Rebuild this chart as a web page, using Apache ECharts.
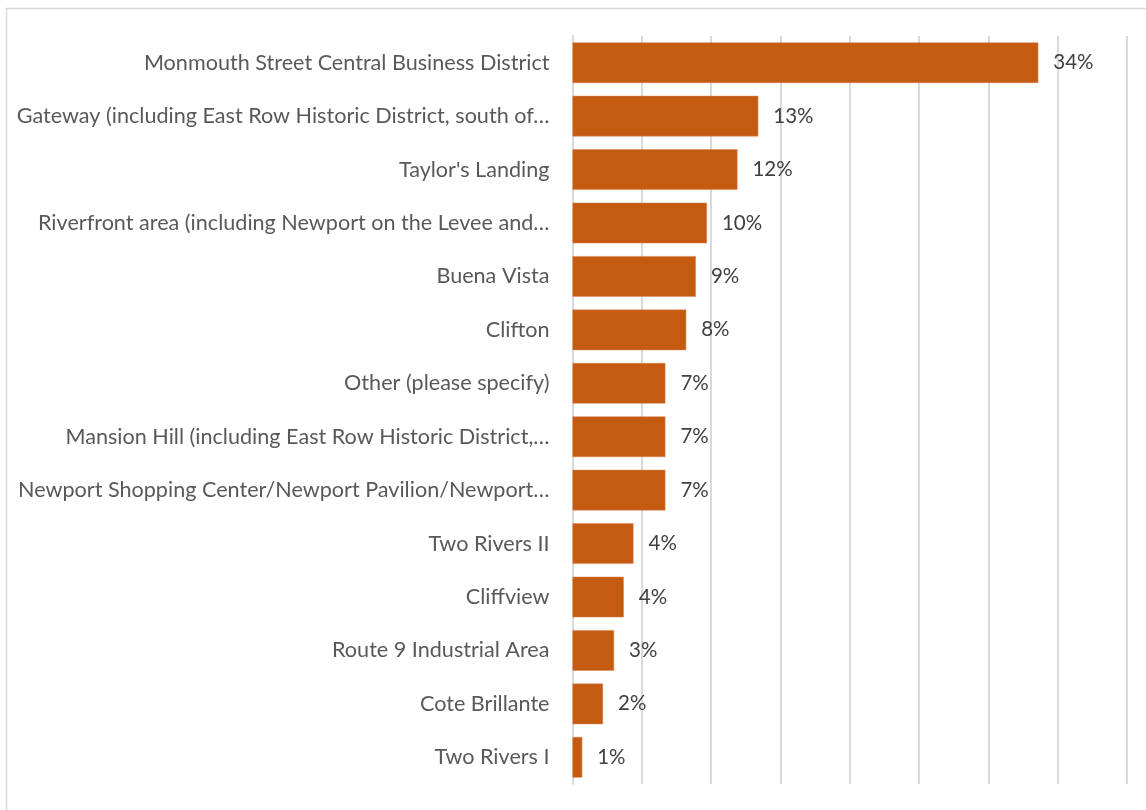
<!DOCTYPE html>
<html>
<head>
<meta charset="utf-8">
<script src="https://cdn.jsdelivr.net/npm/echarts@6/dist/echarts.min.js"></script>
<style>
  html, body { margin: 0; padding: 0; background: #ffffff; }
  #chart { width: 1146px; height: 810px; }
</style>
</head>
<body>
<div id="chart"></div>
<script>
const categories = [
  "Monmouth Street Central Business District",
  "Gateway (including East Row Historic District, south of…",
  "Taylor's Landing",
  "Riverfront area (including Newport on the Levee and…",
  "Buena Vista",
  "Clifton",
  "Other (please specify)",
  "Mansion Hill (including East Row Historic District,…",
  "Newport Shopping Center/Newport Pavilion/Newport…",
  "Two Rivers II",
  "Cliffview",
  "Route 9 Industrial Area",
  "Cote Brillante",
  "Two Rivers I"
];
const values = [33.6, 13.4, 11.9, 9.7, 8.9, 8.2, 6.7, 6.7, 6.7, 4.4, 3.7, 3.0, 2.2, 0.7];
const axisMin = 0;
const axisMax = 40;
const axisStep = 5;

const chart = echarts.init(document.getElementById('chart'), null, { renderer: 'canvas' });
chart.setOption({
  animation: false,
  backgroundColor: '#ffffff',
  graphic: [{
    type: 'rect',
    left: 4, top: 6,
    shape: { width: 1170, height: 830 },
    style: { fill: 'none', stroke: '#d9d9d9', lineWidth: 1.5 },
    silent: true, z: -1
  }],
  grid: { left: 572.5, right: 19, top: 36, bottom: 26, containLabel: false },
  xAxis: {
    type: 'value',
    min: axisMin, max: axisMax, interval: axisStep,
    axisLabel: { show: false },
    axisLine: { show: false },
    axisTick: { show: false },
    splitLine: { show: true, lineStyle: { color: '#d9d9d9', width: 2 } }
  },
  yAxis: {
    type: 'category',
    data: categories,
    inverse: true,
    axisTick: { show: false },
    axisLine: { show: true, lineStyle: { color: '#d9d9d9', width: 2 } },
    axisLabel: {
      margin: 23,
      color: '#595959',
      fontFamily: 'Lato',
      fontSize: 21.6
    }
  },
  series: [{
    type: 'bar',
    data: values,
    barCategoryGap: '24%',
    itemStyle: { color: '#C55A11', borderColor: '#d9875a', borderWidth: 0.5 },
    label: {
      show: true,
      position: 'right',
      distance: 15,
      color: '#404040',
      fontFamily: 'Lato',
      fontSize: 20.5,
      formatter: p => Math.round(p.value) + '%'
    }
  }]
});
</script>
</body>
</html>
